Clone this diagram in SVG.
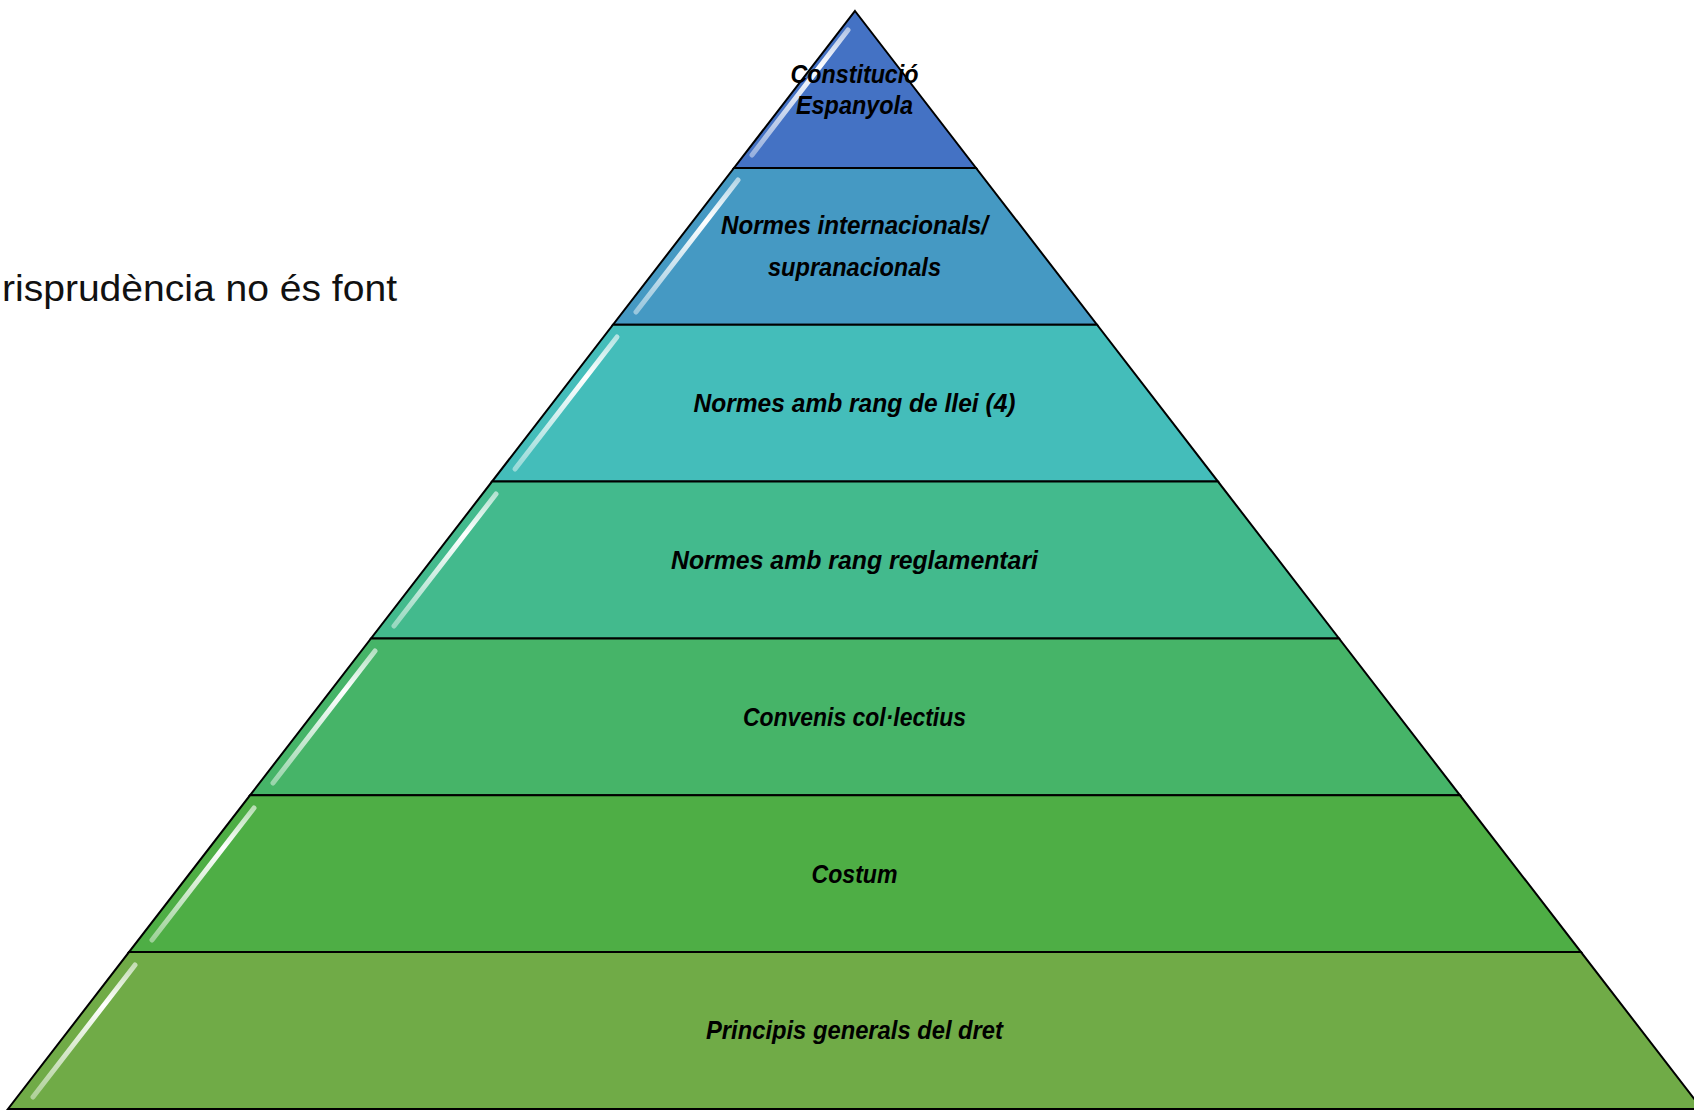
<svg xmlns="http://www.w3.org/2000/svg" width="1694" height="1111" viewBox="0 0 1694 1111">
<defs>
<style>
.layer{stroke:#000;stroke-width:2;stroke-linejoin:miter}
.lbl{font-family:"Liberation Sans",Arial,sans-serif;font-weight:bold;font-style:italic;font-size:25px;fill:#000;text-anchor:middle}
.side{font-family:"Liberation Sans",Arial,sans-serif;font-size:37px;fill:#111}
.hl{stroke:url(#hlg);stroke-width:5;stroke-linecap:round;fill:none}
</style>
<linearGradient id="hlg" x1="0" y1="0" x2="0" y2="1" gradientUnits="objectBoundingBox">
<stop offset="0" stop-color="#ffffff" stop-opacity="0.6"/>
<stop offset="0.3" stop-color="#ffffff" stop-opacity="1"/>
<stop offset="1" stop-color="#ffffff" stop-opacity="0.45"/>
</linearGradient>
</defs>
<text class="side" x="2" y="301" textLength="395" lengthAdjust="spacingAndGlyphs">risprudència no és font</text>
<g id="layer1">
<polygon class="layer" fill="#4472C4" points="855,11 976,167.9 734,167.9"/>
<line class="hl" x1="848" y1="30" x2="752" y2="155"/>
<text class="lbl" x="854.5" y="83" textLength="128" lengthAdjust="spacingAndGlyphs">Constitució</text>
<text class="lbl" x="854.5" y="114" textLength="117" lengthAdjust="spacingAndGlyphs">Espanyola</text>
</g>
<g id="layer2">
<polygon class="layer" fill="#4599C3" points="734,167.9 976,167.9 1097,324.7 613,324.7"/>
<line class="hl" x1="738" y1="180" x2="636" y2="312"/>
<text class="lbl" x="854.5" y="234" textLength="267" lengthAdjust="spacingAndGlyphs">Normes internacionals/</text>
<text class="lbl" x="854.5" y="276" textLength="173" lengthAdjust="spacingAndGlyphs">supranacionals</text>
</g>
<g id="layer3">
<polygon class="layer" fill="#44BDBA" points="613,324.7 1097,324.7 1218,481.6 492,481.6"/>
<line class="hl" x1="617" y1="337" x2="515" y2="469"/>
<text class="lbl" x="854.5" y="412" textLength="322" lengthAdjust="spacingAndGlyphs">Normes amb rang de llei (4)</text>
</g>
<g id="layer4">
<polygon class="layer" fill="#43BA8D" points="492,481.6 1218,481.6 1339,638.4 371,638.4"/>
<line class="hl" x1="496" y1="494" x2="394" y2="626"/>
<text class="lbl" x="854.5" y="569" textLength="367" lengthAdjust="spacingAndGlyphs">Normes amb rang reglamentari</text>
</g>
<g id="layer5">
<polygon class="layer" fill="#46B468" points="371,638.4 1339,638.4 1460,795.3 250,795.3"/>
<line class="hl" x1="375" y1="651" x2="273" y2="783"/>
<text class="lbl" x="854.5" y="726" textLength="223" lengthAdjust="spacingAndGlyphs">Convenis col·lectius</text>
</g>
<g id="layer6">
<polygon class="layer" fill="#4EAE45" points="250,795.3 1460,795.3 1581,952.1 129,952.1"/>
<line class="hl" x1="254" y1="808" x2="152" y2="940"/>
<text class="lbl" x="854.5" y="883" textLength="86" lengthAdjust="spacingAndGlyphs">Costum</text>
</g>
<g id="layer7">
<polygon class="layer" fill="#70AB47" points="129,952.1 1581,952.1 1702,1109 8,1109"/>
<line class="hl" x1="135" y1="965" x2="33" y2="1097"/>
<text class="lbl" x="854.5" y="1039" textLength="297" lengthAdjust="spacingAndGlyphs">Principis generals del dret</text>
</g>
<g id="connectors"/>
</svg>
